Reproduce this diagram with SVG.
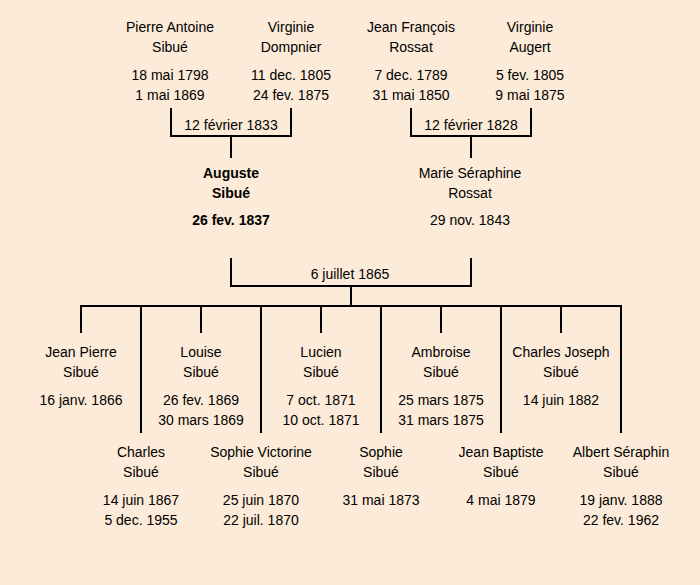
<svg xmlns="http://www.w3.org/2000/svg" width="700" height="585" viewBox="0 0 700 585">
<style>
text{font-family:"Comic Sans MS","Liberation Sans",sans-serif;font-size:14px;fill:#000;text-anchor:middle}
.b{font-weight:bold}
.c line,.c polyline{stroke:#000;stroke-width:2;fill:none}
</style>
<rect width="700" height="585" fill="#fcebd8"/>
<g class="c" id="connectors">
<polyline points="171,108 171,136 291,136 291,108"/>
<line x1="231" y1="136" x2="231" y2="158"/>
<polyline points="411,108 411,136 531,136 531,108"/>
<line x1="471" y1="136" x2="471" y2="158"/>
<polyline points="231,258 231,286 471,286 471,258"/>
<line x1="351" y1="286" x2="351" y2="306"/>
<line x1="80" y1="306" x2="622" y2="306"/>
<line x1="81" y1="306" x2="81" y2="333"/>
<line x1="201" y1="306" x2="201" y2="333"/>
<line x1="321" y1="306" x2="321" y2="333"/>
<line x1="441" y1="306" x2="441" y2="333"/>
<line x1="561" y1="306" x2="561" y2="333"/>
<line x1="141" y1="306" x2="141" y2="433"/>
<line x1="261" y1="306" x2="261" y2="433"/>
<line x1="381" y1="306" x2="381" y2="433"/>
<line x1="501" y1="306" x2="501" y2="433"/>
<line x1="621" y1="306" x2="621" y2="433"/>
<text x="231" y="130">12 février 1833</text>
<text x="471" y="130">12 février 1828</text>
<text x="350" y="279">6 juillet 1865</text>
</g>
<g id="pierre"><text x="170" y="32">Pierre Antoine</text><text x="170" y="52">Sibué</text><text x="170" y="80">18 mai 1798</text><text x="170" y="100">1 mai 1869</text></g>
<g id="virginie-d"><text x="291" y="32">Virginie</text><text x="291" y="52">Dompnier</text><text x="291" y="80">11 dec. 1805</text><text x="291" y="100">24 fev. 1875</text></g>
<g id="jean-francois"><text x="411" y="32">Jean François</text><text x="411" y="52">Rossat</text><text x="411" y="80">7 dec. 1789</text><text x="411" y="100">31 mai 1850</text></g>
<g id="virginie-a"><text x="530" y="32">Virginie</text><text x="530" y="52">Augert</text><text x="530" y="80">5 fev. 1805</text><text x="530" y="100">9 mai 1875</text></g>
<g id="auguste" class="b"><text class="b" x="231" y="178">Auguste</text><text class="b" x="231" y="198">Sibué</text><text class="b" x="231" y="225">26 fev. 1837</text></g>
<g id="marie"><text x="470" y="178">Marie Séraphine</text><text x="470" y="198">Rossat</text><text x="470" y="225">29 nov. 1843</text></g>
<g id="jean-pierre"><text x="81" y="357">Jean Pierre</text><text x="81" y="377">Sibué</text><text x="81" y="405">16 janv. 1866</text></g>
<g id="louise"><text x="201" y="357">Louise</text><text x="201" y="377">Sibué</text><text x="201" y="405">26 fev. 1869</text><text x="201" y="425">30 mars 1869</text></g>
<g id="lucien"><text x="321" y="357">Lucien</text><text x="321" y="377">Sibué</text><text x="321" y="405">7 oct. 1871</text><text x="321" y="425">10 oct. 1871</text></g>
<g id="ambroise"><text x="441" y="357">Ambroise</text><text x="441" y="377">Sibué</text><text x="441" y="405">25 mars 1875</text><text x="441" y="425">31 mars 1875</text></g>
<g id="charles-joseph"><text x="561" y="357">Charles Joseph</text><text x="561" y="377">Sibué</text><text x="561" y="405">14 juin 1882</text></g>
<g id="charles"><text x="141" y="457">Charles</text><text x="141" y="477">Sibué</text><text x="141" y="505">14 juin 1867</text><text x="141" y="525">5 dec. 1955</text></g>
<g id="sophie-victorine"><text x="261" y="457">Sophie Victorine</text><text x="261" y="477">Sibué</text><text x="261" y="505">25 juin 1870</text><text x="261" y="525">22 juil. 1870</text></g>
<g id="sophie"><text x="381" y="457">Sophie</text><text x="381" y="477">Sibué</text><text x="381" y="505">31 mai 1873</text></g>
<g id="jean-baptiste"><text x="501" y="457">Jean Baptiste</text><text x="501" y="477">Sibué</text><text x="501" y="505">4 mai 1879</text></g>
<g id="albert"><text x="621" y="457">Albert Séraphin</text><text x="621" y="477">Sibué</text><text x="621" y="505">19 janv. 1888</text><text x="621" y="525">22 fev. 1962</text></g>
</svg>
